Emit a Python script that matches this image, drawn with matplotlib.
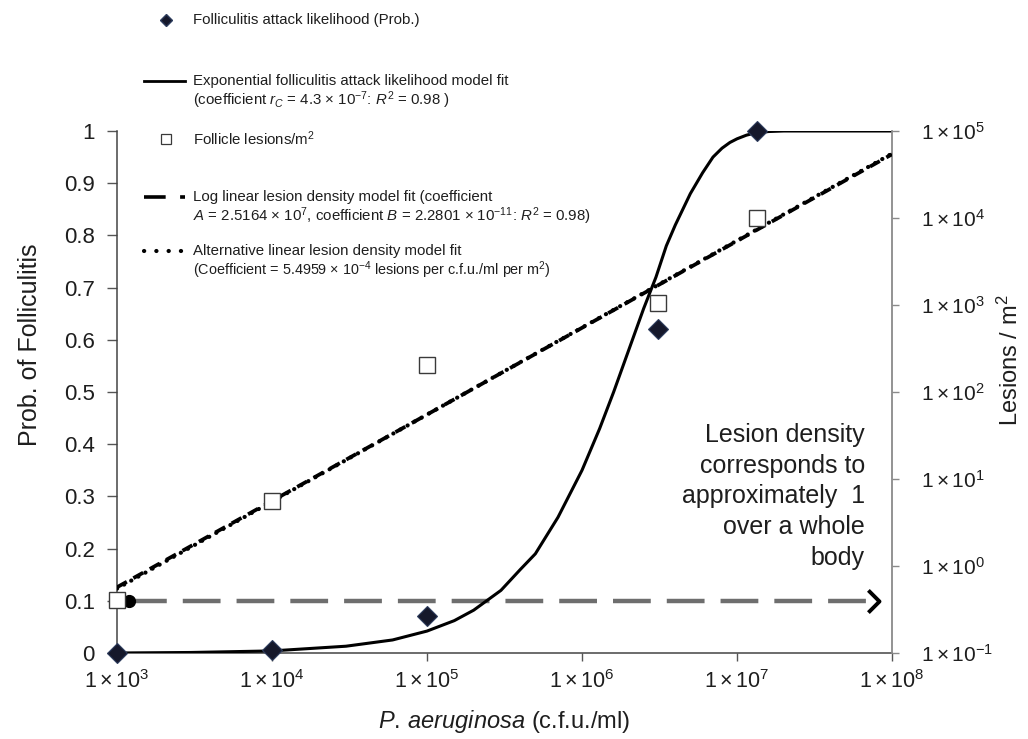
import numpy as np
import matplotlib
matplotlib.use("Agg")
import matplotlib.pyplot as plt
from matplotlib.path import Path
from matplotlib.ticker import FixedLocator, FuncFormatter, NullLocator

plt.rcParams['font.family'] = ['Liberation Sans', 'DejaVu Sans']
plt.rcParams['mathtext.fontset'] = 'custom'
plt.rcParams['mathtext.rm'] = 'Liberation Sans'
plt.rcParams['mathtext.it'] = 'Liberation Sans:italic'
plt.rcParams['mathtext.bf'] = 'Liberation Sans:bold'

# -----------------------------
# Data
# -----------------------------
# observed folliculitis attack likelihood (left axis)
prob_x = [1e3, 1e4, 1e5, 3.1e6, 1.35e7]
prob_y = [0.0, 0.005, 0.07, 0.62, 1.0]

# exponential model fit (left axis)
fit_x = [1e3, 3e3, 1e4, 3e4, 6e4, 1e5, 1.5e5, 2e5, 3e5, 4e5, 5e5, 7e5, 1e6,
         1.3e6, 1.6e6, 2e6, 2.5e6, 3e6, 3.5e6, 4e6, 5e6, 6e6, 7e6, 8e6, 9e6,
         1e7, 1.15e7, 1.3e7, 1.6e7, 2e7, 5e7, 1e8]
fit_y = [0.0, 0.001, 0.004, 0.013, 0.025, 0.042, 0.062, 0.082, 0.12, 0.16, 0.19,
         0.26, 0.35, 0.43, 0.50, 0.58, 0.66, 0.72, 0.78, 0.82, 0.88, 0.92, 0.95,
         0.967, 0.978, 0.985, 0.992, 0.996, 0.999, 1.0, 1.0, 1.0]

# follicle lesions per m2 (right axis)
lesion_x = [1e3, 1e4, 1e5, 3.1e6, 1.35e7]
lesion_y = [0.41, 5.6, 205, 1.05e3, 1.0e4]

# lesion density model fits (right axis)
loglin_x = [1e3, 1e5, 1e8]
loglin_y = [0.57, 55, 5.4e4]
altlin_x = [1e3, 1e5, 1e8]
altlin_y = [0.55, 55, 5.5e4]

# reference level: lesion density ~1 per whole body
ref_x = [1.2e3, 8.3e7]
ref_y = [0.1, 0.1]

x_ticks = [1e3, 1e4, 1e5, 1e6, 1e7, 1e8]
left_ticks = [0.0, 0.1, 0.2, 0.3, 0.4, 0.5, 0.6, 0.7, 0.8, 0.9, 1.0]
right_ticks = [1e-1, 1e0, 1e1, 1e2, 1e3, 1e4, 1e5]

TXT = '#1e1e1e'

def sci_label(v, pos=None):
    e = int(round(np.log10(v)))
    return r'$1\times10^{%d}$' % e

# -----------------------------
# Figure / axes
# -----------------------------
fig = plt.figure(figsize=(10.28, 7.39), dpi=100)
ax = fig.add_axes([117 / 1028, 1 - 653 / 739, 775 / 1028, 522 / 739])
ax2 = ax.twinx()

ax.set_xscale('log')
ax.set_xlim(1e3, 1e8)
ax.set_ylim(0, 1)
ax2.set_yscale('log')
ax2.set_ylim(1e-1, 1e5)

# left axis series
ax.plot(fit_x, fit_y, color='black', lw=2.2, solid_capstyle='round',
        solid_joinstyle='round', zorder=3)
ax.plot(ref_x, ref_y, color='#6e6e6e', lw=3.2, linestyle=(0, (8.5, 3.6)), zorder=2)
chevron = Path([(-1, 1), (0, 0), (-1, -1)], [Path.MOVETO, Path.LINETO, Path.LINETO])
ax.plot(ref_x[-1:], ref_y[-1:], marker=chevron, markersize=16, markeredgewidth=2.8,
        markerfacecolor='none', markeredgecolor='black', linestyle='none', zorder=4,
        clip_on=False)
ax.plot(ref_x[:1], ref_y[:1], marker='o', markersize=8.5, color='black',
        linestyle='none', zorder=4, clip_on=False)
ax.plot(prob_x, prob_y, marker='D', markersize=10, markerfacecolor='#15182b',
        markeredgecolor='#2c3b5c', markeredgewidth=0.8, linestyle='none', zorder=5,
        clip_on=False)

# right axis series
ax2.plot(loglin_x, loglin_y, color='black', lw=2.7, linestyle=(0, (3.0, 2.0)), zorder=3)
ax2.plot(altlin_x, altlin_y, color='black', lw=3.0, linestyle=(0, (0.05, 1.9)),
         dash_capstyle='round', zorder=3)
ax2.plot(lesion_x, lesion_y, marker='s', markersize=11.5, markerfacecolor='white',
         markeredgecolor='#3a3a3a', markeredgewidth=1.0, linestyle='none', zorder=4,
         clip_on=False)

# -----------------------------
# Spines, ticks, labels
# -----------------------------
for a in (ax, ax2):
    a.spines['top'].set_visible(False)
ax.spines['right'].set_visible(False)
ax2.spines['left'].set_visible(False)
ax2.spines['bottom'].set_visible(False)
ax.spines['left'].set_color('#444444')
ax.spines['bottom'].set_color('#444444')
ax2.spines['right'].set_color('#8a8a8a')
for s in ('left', 'bottom'):
    ax.spines[s].set_linewidth(1.1)
ax2.spines['right'].set_linewidth(1.3)

ax.xaxis.set_major_locator(FixedLocator(x_ticks))
ax.xaxis.set_minor_locator(NullLocator())
ax.xaxis.set_major_formatter(FuncFormatter(sci_label))
ax.yaxis.set_major_locator(FixedLocator(left_ticks))
ax.yaxis.set_major_formatter(FuncFormatter(lambda v, p: f'{v:g}'))
ax2.yaxis.set_major_locator(FixedLocator(right_ticks))
ax2.yaxis.set_minor_locator(NullLocator())
ax2.yaxis.set_major_formatter(FuncFormatter(sci_label))

ax.tick_params(axis='x', direction='out', length=6, width=1, color='#555555',
               labelsize=15.5, labelcolor=TXT, pad=6)
ax.tick_params(axis='y', direction='out', length=7, width=1, color='#555555',
               labelsize=16, labelcolor=TXT, pad=9)
ax2.tick_params(axis='y', direction='out', length=5, width=1, color='#8a8a8a',
                labelsize=15, labelcolor=TXT, pad=16)

ax.set_xlabel(r'$\mathit{P.\,aeruginosa}$ (c.f.u./ml)', fontsize=17, color=TXT)
ax.xaxis.set_label_coords(0.5, -0.106)
ax.set_ylabel('Prob. of Folliculitis', fontsize=18, color=TXT)
ax.yaxis.set_label_coords(-0.097, 0.59)
ax2.set_ylabel(r'Lesions / m$^2$', fontsize=17, color=TXT)
ax2.yaxis.set_label_coords(1.137, 0.56)

ax.text(0.965, 0.30, 'Lesion density\ncorresponds to\napproximately  1\nover a whole\nbody',
        transform=ax.transAxes, ha='right', va='center', multialignment='right',
        fontsize=18, color=TXT, linespacing=1.35)

# -----------------------------
# Hand-placed legend (pixel overlay)
# -----------------------------
lg = fig.add_axes([0, 0, 1, 1], zorder=10)
lg.set_xlim(0, 1028)
lg.set_ylim(739, 0)
lg.axis('off')
lg.patch.set_alpha(0)

LX0, LX1, LM, TX = 144, 185, 166, 193
LFS = 10.8

lg.plot([LM], [20], marker='D', markersize=6, markerfacecolor='#15182b',
        markeredgecolor='#2c3b5c', linestyle='none')
lg.text(TX, 20, 'Folliculitis attack likelihood (Prob.)', fontsize=LFS, va='center', color=TXT)

lg.plot([LX0, LX1], [81, 81], color='black', lw=2.0)
lg.text(TX, 81, 'Exponential folliculitis attack likelihood model fit', fontsize=LFS,
        va='center', color=TXT)
lg.text(TX, 100, r'(coefficient $r_C$ = 4.3 × 10$^{-7}$: $R^2$ = 0.98 )', fontsize=LFS,
        va='center', color=TXT)

lg.plot([LM], [139], marker='s', markersize=7, markerfacecolor='white',
        markeredgecolor='#3a3a3a', markeredgewidth=0.9, linestyle='none')
lg.text(TX, 139, r'Follicle lesions/m$^2$', fontsize=LFS, va='center', color=TXT)

lg.plot([LX0, LX1], [197, 197], color='black', lw=2.6, linestyle=(0, (6.0, 4.0)))
lg.text(TX, 197, 'Log linear lesion density model fit (coefficient', fontsize=LFS,
        va='center', color=TXT)
lg.text(TX, 216, r'$A$ = 2.5164 × 10$^{7}$, coefficient $B$ = 2.2801 × 10$^{-11}$: $R^2$ = 0.98)',
        fontsize=LFS, va='center', color=TXT)

lg.plot([LX0, LX1], [251, 251], color='black', lw=3.0, linestyle=(0, (0.05, 2.9)),
        dash_capstyle='round')
lg.text(TX, 251, 'Alternative linear lesion density model fit', fontsize=LFS,
        va='center', color=TXT)
lg.text(TX, 270, r'(Coefficient = 5.4959 × 10$^{-4}$ lesions per c.f.u./ml per m$^2$)',
        fontsize=LFS - 0.4, va='center', color=TXT)

fig.savefig('out.png', dpi=100)
